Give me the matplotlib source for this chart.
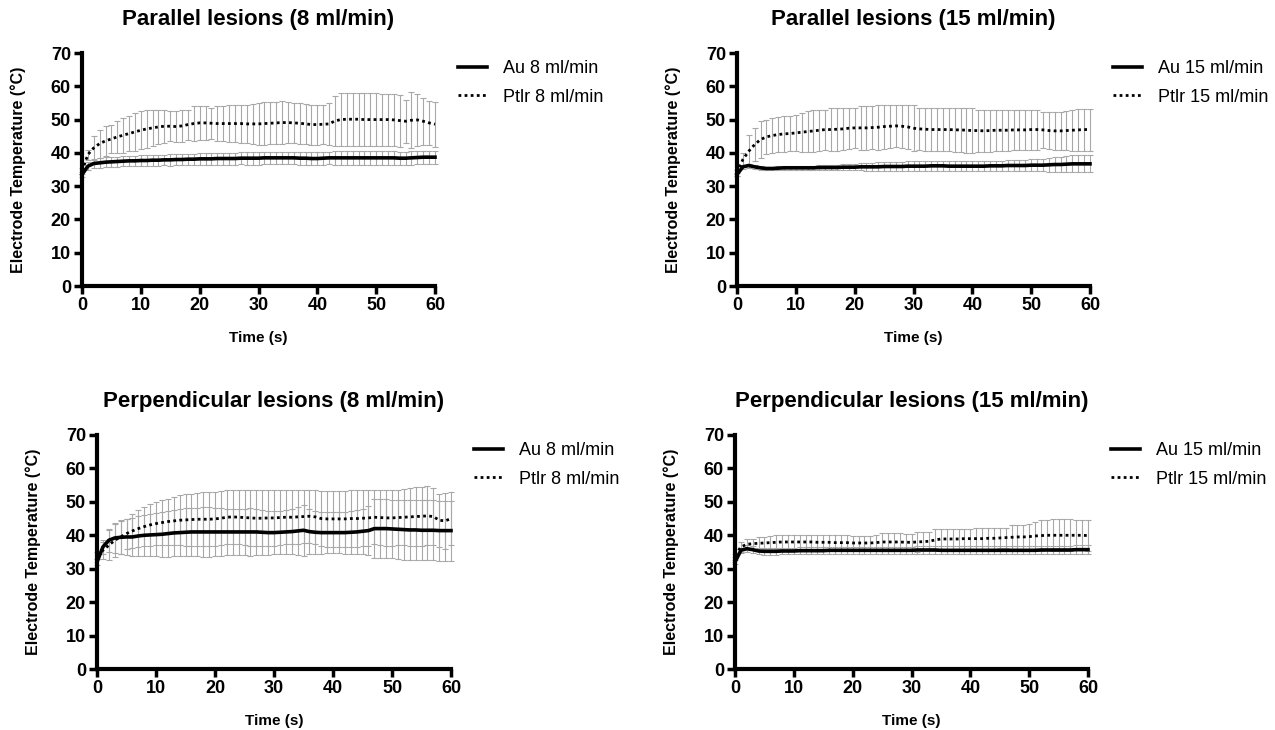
import matplotlib
matplotlib.use('Agg')
import matplotlib.pyplot as plt
import numpy as np

plt.rcParams['font.family'] = ['Liberation Sans', 'DejaVu Sans']

time_s = list(range(0, 61))

# Parallel lesions, 8 ml/min
par8_au = [33.5, 36.0, 36.8, 37.0, 37.2, 37.3, 37.4, 37.5, 37.6, 37.6, 37.7, 37.7, 37.8, 37.8, 37.9, 37.9,
           38.0, 38.0, 38.1, 38.1, 38.2, 38.2, 38.2, 38.3, 38.3, 38.3, 38.3, 38.4, 38.4, 38.4, 38.4, 38.5,
           38.5, 38.5, 38.5, 38.5, 38.5, 38.4, 38.4, 38.3, 38.3, 38.4, 38.5, 38.5, 38.5, 38.5, 38.5, 38.5,
           38.5, 38.5, 38.5, 38.5, 38.5, 38.5, 38.4, 38.4, 38.5, 38.6, 38.7, 38.7, 38.7]
par8_au_sd = [0.8, 1.2, 1.4, 1.4, 1.5, 1.5, 1.5, 1.5, 1.5, 1.5, 1.6, 1.6, 1.6, 1.6, 1.6, 1.7,
              1.7, 1.7, 1.7, 1.7, 1.7, 1.8, 1.8, 1.8, 1.8, 1.8, 1.8, 1.8, 1.9, 1.9, 1.9, 1.9,
              1.9, 1.9, 1.9, 1.9, 1.9, 1.9, 1.9, 1.9, 1.9, 1.9, 1.9, 2.0, 2.0, 2.0, 2.0, 2.0,
              2.0, 2.0, 2.0, 2.0, 2.0, 2.0, 2.0, 2.0, 2.0, 2.0, 2.0, 2.0, 2.0]
par8_pt = [34.5, 39.5, 41.5, 42.8, 43.6, 44.2, 44.8, 45.3, 45.8, 46.3, 46.8, 47.2, 47.5, 47.8, 48.0, 48.0,
           47.9, 48.1, 48.5, 48.8, 49.0, 49.0, 48.9, 48.8, 48.8, 48.8, 48.8, 48.8, 48.7, 48.7, 48.7, 48.8,
           48.9, 49.0, 49.1, 49.1, 49.0, 48.9, 48.7, 48.5, 48.5, 48.6, 48.7, 49.6, 50.0, 50.1, 50.1, 50.1,
           50.0, 50.0, 50.0, 50.0, 50.0, 49.9, 49.7, 49.5, 49.8, 49.9, 49.5, 49.0, 48.6]
par8_pt_sd = [1.0, 1.5, 3.5, 4.2, 4.4, 4.3, 4.7, 5.2, 5.2, 5.7, 5.7, 5.8, 5.5, 5.2, 5.0, 4.5,
              4.6, 4.9, 4.5, 5.2, 5.0, 5.0, 4.6, 5.2, 5.3, 5.5, 5.6, 5.7, 5.8, 6.0, 6.3, 6.4,
              6.3, 6.3, 6.4, 6.2, 6.0, 6.1, 6.1, 6.0, 6.0, 5.9, 6.3, 7.4, 8.0, 7.9, 7.9, 7.9,
              8.0, 8.0, 8.0, 7.8, 7.8, 7.8, 7.8, 6.5, 8.4, 7.9, 7.0, 6.5, 6.7]

# Parallel lesions, 15 ml/min
par15_au = [33.5, 35.8, 36.2, 35.8, 35.5, 35.3, 35.3, 35.4, 35.5, 35.5, 35.5, 35.5, 35.5, 35.5, 35.6, 35.6,
            35.6, 35.6, 35.7, 35.7, 35.7, 35.8, 35.8, 35.8, 35.8, 35.9, 35.9, 35.9, 35.9, 36.0, 36.0, 36.0,
            36.0, 36.1, 36.1, 36.1, 36.0, 36.0, 36.0, 36.0, 36.0, 36.0, 36.0, 36.1, 36.1, 36.1, 36.2, 36.2,
            36.2, 36.2, 36.3, 36.3, 36.3, 36.4, 36.5, 36.5, 36.6, 36.7, 36.7, 36.7, 36.7]
par15_au_sd = [0.5, 0.5, 0.6, 0.6, 0.6, 0.6, 0.6, 0.6, 0.6, 0.6, 0.6, 0.7, 0.7, 0.7, 0.8, 0.8,
               0.8, 0.9, 0.9, 1.0, 1.0, 1.1, 1.2, 1.3, 1.4, 1.5, 1.5, 1.5, 1.5, 1.5, 1.5, 1.5,
               1.5, 1.6, 1.6, 1.6, 1.5, 1.5, 1.5, 1.5, 1.5, 1.5, 1.5, 1.5, 1.6, 1.6, 1.6, 1.7,
               1.7, 1.7, 1.8, 1.8, 1.9, 2.1, 2.3, 2.3, 2.4, 2.6, 2.6, 2.6, 2.6]
par15_pt = [34.0, 38.0, 40.5, 42.5, 44.0, 44.8, 45.2, 45.5, 45.7, 45.8, 46.0, 46.2, 46.4, 46.6, 46.8, 47.0,
            47.0, 47.1, 47.2, 47.4, 47.5, 47.5, 47.5, 47.6, 47.7, 47.9, 48.0, 48.1, 48.0, 47.8, 47.4, 47.2,
            47.1, 47.0, 47.0, 47.0, 47.0, 46.9, 46.9, 46.8, 46.7, 46.7, 46.6, 46.7, 46.8, 46.8, 46.8, 46.9,
            46.9, 46.9, 47.0, 47.0, 46.9, 46.7, 46.6, 46.6, 46.7, 46.8, 46.9, 47.0, 47.0]
par15_pt_sd = [1.0, 2.0, 5.0, 5.0, 5.5, 5.2, 5.3, 5.2, 5.3, 5.2, 5.5, 5.8, 6.1, 6.4, 6.2, 6.0,
               6.5, 6.4, 6.3, 6.1, 6.0, 6.5, 6.5, 6.4, 6.8, 6.6, 6.5, 6.4, 6.5, 6.5, 6.9, 6.3,
               6.4, 6.5, 6.5, 6.5, 6.5, 6.6, 6.6, 6.7, 6.8, 6.3, 6.4, 6.3, 6.2, 6.2, 6.2, 6.1,
               6.1, 6.1, 6.0, 6.0, 5.4, 5.6, 5.7, 5.7, 5.8, 6.2, 6.4, 6.3, 6.3]

# Perpendicular lesions, 8 ml/min
perp8_au = [32.0, 36.5, 38.5, 39.2, 39.4, 39.5, 39.5, 39.8, 40.0, 40.1, 40.2, 40.3, 40.5, 40.7, 40.8, 40.9,
            41.0, 41.0, 41.0, 41.0, 41.0, 41.0, 41.0, 41.0, 41.0, 41.0, 41.0, 41.0, 40.9, 40.8, 40.8, 40.9,
            41.0, 41.1, 41.3, 41.5, 41.1, 40.9, 40.8, 40.8, 40.8, 40.8, 40.8, 40.9, 41.0, 41.2, 41.4, 42.0,
            42.0, 42.0, 41.9, 41.8, 41.7, 41.6, 41.6, 41.5, 41.5, 41.5, 41.4, 41.4, 41.4]
perp8_au_sd = [1.0, 2.0, 3.5, 4.5, 5.0, 5.5, 5.8, 6.0, 6.2, 6.4, 6.5, 6.7, 6.9, 7.0, 7.1, 7.2,
               7.3, 7.3, 7.4, 7.4, 7.3, 7.1, 7.0, 7.0, 6.9, 7.0, 7.1, 7.0, 6.8, 6.6, 6.5, 6.5,
               6.6, 6.8, 7.2, 7.6, 6.8, 6.5, 6.3, 6.2, 6.2, 6.2, 6.3, 6.4, 6.6, 6.8, 7.3, 8.8,
               8.8, 8.8, 8.8, 8.9, 9.0, 9.0, 9.0, 9.0, 9.0, 9.0, 9.0, 9.0, 9.0]
perp8_pt = [34.0, 35.5, 37.0, 38.5, 39.5, 40.5, 41.3, 42.0, 42.6, 43.1, 43.5, 43.8, 44.1, 44.3, 44.5, 44.6,
            44.7, 44.8, 44.8, 44.8, 44.9, 45.1, 45.4, 45.5, 45.4, 45.3, 45.2, 45.1, 45.1, 45.2, 45.2, 45.3,
            45.4, 45.4, 45.5, 45.6, 45.7, 45.5, 45.0, 44.9, 44.9, 44.9, 44.9, 45.0, 45.0, 45.1, 45.2, 45.4,
            45.3, 45.2, 45.2, 45.3, 45.4, 45.5, 45.6, 45.7, 45.8, 45.6, 44.5, 44.3, 45.0]
perp8_pt_sd = [1.0, 2.5, 4.5, 5.0, 5.0, 4.5, 5.2, 5.5, 5.9, 6.4, 6.5, 6.7, 6.9, 7.2, 7.5, 7.7,
               7.8, 7.9, 8.0, 8.0, 8.0, 8.1, 8.1, 8.0, 8.1, 8.2, 8.3, 8.4, 8.4, 8.3, 8.3, 8.2,
               8.1, 8.1, 8.1, 8.0, 7.9, 8.0, 8.3, 8.4, 8.4, 8.4, 8.4, 8.4, 8.5, 8.4, 8.3, 8.1,
               8.2, 8.3, 8.3, 8.2, 8.4, 8.7, 8.8, 8.8, 8.8, 8.4, 8.0, 8.4, 8.0]

# Perpendicular lesions, 15 ml/min
perp15_au = [32.0, 35.5, 36.0, 35.7, 35.3, 35.2, 35.2, 35.2, 35.3, 35.3, 35.3, 35.4, 35.4, 35.4, 35.4, 35.4,
             35.5, 35.5, 35.5, 35.5, 35.5, 35.5, 35.5, 35.5, 35.5, 35.5, 35.5, 35.5, 35.5, 35.5, 35.5, 35.6,
             35.6, 35.6, 35.6, 35.5, 35.5, 35.5, 35.5, 35.5, 35.5, 35.5, 35.5, 35.5, 35.5, 35.5, 35.5, 35.5,
             35.5, 35.5, 35.5, 35.5, 35.6, 35.6, 35.6, 35.6, 35.6, 35.6, 35.7, 35.7, 35.7]
perp15_au_sd = [0.5, 0.8, 1.0, 1.0, 1.0, 1.0, 1.0, 1.0, 1.0, 1.0, 1.0, 1.0, 1.0, 1.0, 1.0, 1.0,
                1.0, 1.0, 1.0, 1.0, 1.0, 1.0, 1.0, 1.0, 1.1, 1.1, 1.1, 1.1, 1.1, 1.1, 1.1, 1.1,
                1.1, 1.1, 1.2, 1.2, 1.2, 1.2, 1.2, 1.2, 1.2, 1.2, 1.2, 1.2, 1.2, 1.2, 1.2, 1.2,
                1.2, 1.2, 1.2, 1.2, 1.2, 1.3, 1.3, 1.3, 1.3, 1.3, 1.3, 1.3, 1.3]
perp15_pt = [34.0, 36.5, 37.3, 37.5, 37.6, 37.7, 37.8, 37.9, 38.0, 38.0, 38.0, 38.0, 38.0, 38.0, 37.9, 37.9,
             37.9, 37.8, 37.8, 37.8, 37.7, 37.7, 37.7, 37.7, 37.8, 38.0, 38.0, 38.0, 38.0, 37.9, 37.9, 38.0,
             38.1, 38.2, 38.6, 38.9, 38.9, 38.9, 38.9, 39.0, 39.0, 39.0, 39.0, 39.1, 39.1, 39.2, 39.3, 39.4,
             39.5, 39.5, 39.6, 39.8, 39.9, 40.0, 40.0, 40.0, 40.0, 40.0, 40.0, 40.0, 39.9]
perp15_pt_sd = [0.5, 1.5, 1.7, 1.5, 1.9, 1.8, 2.0, 2.1, 2.0, 2.0, 2.0, 2.0, 2.0, 2.0, 2.1, 2.1,
                2.1, 2.2, 2.2, 2.2, 2.1, 2.1, 2.1, 2.1, 2.2, 2.8, 2.8, 2.8, 2.8, 2.4, 2.4, 3.0,
                2.9, 2.8, 3.2, 2.9, 2.9, 3.1, 3.1, 3.0, 3.0, 3.3, 3.3, 3.2, 3.2, 3.1, 3.0, 3.6,
                3.5, 3.5, 3.7, 4.2, 4.6, 4.5, 4.8, 4.8, 4.8, 4.8, 4.5, 4.5, 4.6]

panels = [
    ("Parallel lesions (8 ml/min)", "8 ml/min", par8_au, par8_au_sd, par8_pt, par8_pt_sd,
     [82/1275, 1 - 286/730, 353/1275, 233/730]),
    ("Parallel lesions (15 ml/min)", "15 ml/min", par15_au, par15_au_sd, par15_pt, par15_pt_sd,
     [737/1275, 1 - 286/730, 353/1275, 233/730]),
    ("Perpendicular lesions (8 ml/min)", "8 ml/min", perp8_au, perp8_au_sd, perp8_pt, perp8_pt_sd,
     [97/1275, 1 - 669/730, 354/1275, 234/730]),
    ("Perpendicular lesions (15 ml/min)", "15 ml/min", perp15_au, perp15_au_sd, perp15_pt, perp15_pt_sd,
     [735/1275, 1 - 669/730, 353/1275, 234/730]),
]

fig = plt.figure(figsize=(12.75, 7.3), dpi=100)

for title, flow, au, au_sd, pt, pt_sd, pos in panels:
    ax = fig.add_axes(pos)
    t = np.array(time_s)
    for mean, sd in ((au, au_sd), (pt, pt_sd)):
        eb = ax.errorbar(t, mean, yerr=sd, fmt='none', ecolor='#a8a8a8', elinewidth=0.8,
                         capsize=2.5, capthick=0.8, zorder=1)
        for art in eb.lines[1] + eb.lines[2]:
            art.set_clip_on(False)
    ax.plot(t, au, color='black', lw=2.6, label='Au ' + flow, zorder=3, clip_on=False)
    ax.plot(t, pt, color='black', lw=2.0, ls=(0, (1, 1.2)), label='Ptlr ' + flow, zorder=3,
            clip_on=False)

    ax.set_xlim(0, 60)
    ax.set_ylim(0, 70)
    ax.set_xticks(range(0, 61, 10))
    ax.set_yticks(range(0, 71, 10))
    for s in ('top', 'right'):
        ax.spines[s].set_visible(False)
    for s in ('left', 'bottom'):
        ax.spines[s].set_linewidth(3)
    ax.tick_params(width=2.5, length=6, direction='out', labelsize=13, pad=2)
    for lab in ax.get_xticklabels() + ax.get_yticklabels():
        lab.set_fontweight('bold')
    ax.set_xlabel('Time (s)', fontsize=11, fontweight='bold', labelpad=12)
    ax.set_ylabel('Electrode Temperature (°C)', fontsize=11.5, fontweight='bold', labelpad=18)
    ax.set_title(title, fontsize=16, fontweight='bold', pad=20)
    ax.legend(loc='upper left', bbox_to_anchor=(1.02, 1.04), frameon=False, fontsize=13,
              handlelength=1.6, handletextpad=0.9, labelspacing=0.65)

fig.savefig('out.png', dpi=100)
